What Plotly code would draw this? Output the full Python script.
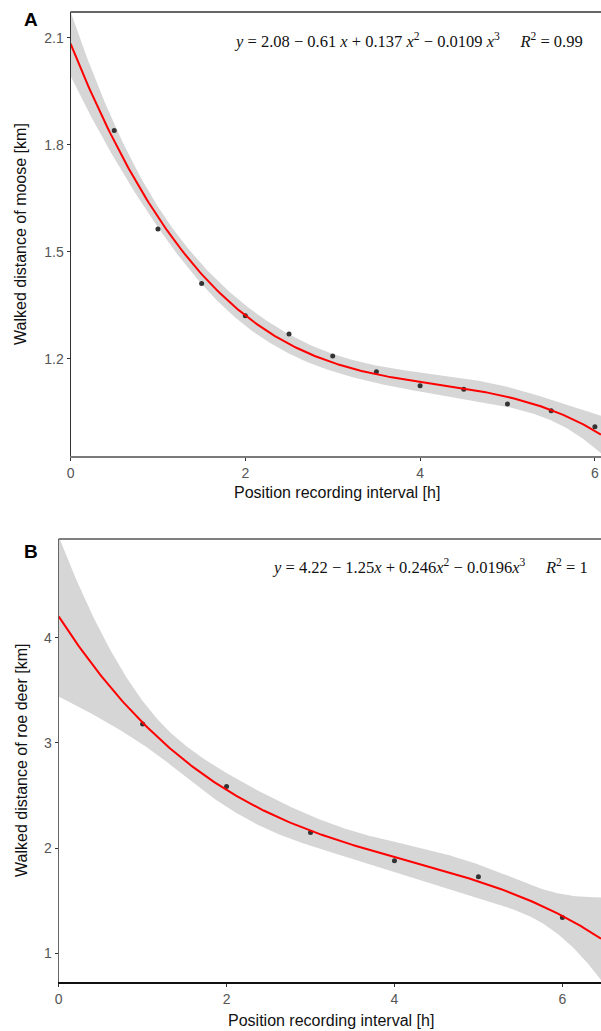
import numpy as np
import plotly.graph_objects as go

# ---------------- data ----------------
moose_x = [0.5, 1.0, 1.5, 2.0, 2.5, 3.0, 3.5, 4.0, 4.5, 5.0, 5.5, 6.0]
moose_y = [1.840, 1.564, 1.411, 1.321, 1.270, 1.208, 1.164, 1.125, 1.115, 1.074, 1.055, 1.010]
deer_x = [1, 2, 3, 4, 5, 6]
deer_y = [3.18, 2.586, 2.149, 1.880, 1.727, 1.342]

x_ticks = [0, 2, 4, 6]
moose_yticks = [1.2, 1.5, 1.8, 2.1]
deer_yticks = [1, 2, 3, 4]

eq_moose = ("<i>y</i> = 2.08 − 0.61 <i>x</i> + 0.137 <i>x</i><sup>2</sup> − 0.0109 <i>x</i><sup>3</sup>"
            "&nbsp;&nbsp;&nbsp;&nbsp;&nbsp;<i>R</i><sup>2</sup> = 0.99")
eq_deer = ("<i>y</i> = 4.22 − 1.25<i>x</i> + 0.246<i>x</i><sup>2</sup> − 0.0196<i>x</i><sup>3</sup>"
           "&nbsp;&nbsp;&nbsp;&nbsp;&nbsp;<i>R</i><sup>2</sup> = 1")

# t quantiles (97.5%) for residual degrees of freedom
T975 = {8: 2.306, 2: 4.303}


def cubic_fit(x, y, xmax):
    x = np.asarray(x, float)
    y = np.asarray(y, float)
    X = np.vander(x, 4)
    beta, *_ = np.linalg.lstsq(X, y, rcond=None)
    resid = y - X @ beta
    df = len(x) - 4
    s2 = (resid @ resid) / df
    cov = s2 * np.linalg.inv(X.T @ X)
    grid = np.linspace(0, xmax, 300)
    G = np.vander(grid, 4)
    fit = G @ beta
    se = np.sqrt(np.einsum("ij,jk,ik->i", G, cov, G))
    t = T975[df]
    return grid, fit, fit - t * se, fit + t * se


W, H = 601, 1031


def px(p):
    return p / W


def py(p):
    return 1 - p / H


A_xr = [0, 6.07]
A_yr = [0.928, 2.172]
B_xr = [0, 6.46]
B_yr = [0.728, 4.937]

fig = go.Figure()

band_col = "#d6d6d6"
for (xs, ys, xr, xa, ya) in [(moose_x, moose_y, A_xr, "x", "y"), (deer_x, deer_y, B_xr, "x2", "y2")]:
    g, f, lo, hi = cubic_fit(xs, ys, xr[1])
    fig.add_trace(go.Scatter(x=g, y=lo, mode="lines", line=dict(width=0), hoverinfo="skip",
                             showlegend=False, xaxis=xa, yaxis=ya))
    fig.add_trace(go.Scatter(x=g, y=hi, mode="lines", line=dict(width=0), fill="tonexty",
                             fillcolor=band_col, hoverinfo="skip", showlegend=False, xaxis=xa, yaxis=ya))
    fig.add_trace(go.Scatter(x=xs, y=ys, mode="markers", marker=dict(color="#333333", size=5),
                             showlegend=False, xaxis=xa, yaxis=ya))
    fig.add_trace(go.Scatter(x=g, y=f, mode="lines", line=dict(color="#ff0000", width=2),
                             showlegend=False, xaxis=xa, yaxis=ya))

tickfont = dict(family="Liberation Sans, Arial", size=14, color="#555555")
common_x = dict(showgrid=False, zeroline=False, showline=True, ticks="outside", ticklen=3,
                tickcolor="#333333", tickfont=tickfont, tickvals=x_ticks)
common_y = dict(showgrid=False, zeroline=False, showline=True, linecolor="#333333", linewidth=1,
                ticks="outside", ticklen=3, tickcolor="#333333", tickfont=tickfont)

fig.update_layout(
    width=W, height=H, autosize=False,
    margin=dict(l=0, r=0, t=0, b=0),
    plot_bgcolor="white", paper_bgcolor="white",
    xaxis=dict(common_x, domain=[px(67), 1.0], range=A_xr, anchor="y",
               linecolor="#7a7a7a", linewidth=2),
    yaxis=dict(common_y, domain=[py(456), py(12)], range=A_yr, anchor="x",
               tickvals=moose_yticks),
    xaxis2=dict(common_x, domain=[px(55), 1.0], range=B_xr, anchor="y2",
                linecolor="#111111", linewidth=1.5),
    yaxis2=dict(common_y, domain=[py(982), py(539)], range=B_yr, anchor="x2",
                tickvals=deer_yticks, linecolor="#666666"),
    shapes=[
        dict(type="line", xref="x domain", yref="y domain", x0=0, x1=1, y0=1, y1=1,
             line=dict(color="#333333", width=1.5)),
        dict(type="line", xref="x2 domain", yref="y2 domain", x0=0, x1=1, y0=1, y1=1,
             line=dict(color="#555555", width=1.5)),
    ],
)

title_font = dict(family="Liberation Sans, Arial", size=16, color="#111111")
eq_font = dict(family="Liberation Serif, Times New Roman", size=16.5, color="#111111")
label_font = dict(family="Liberation Sans, Arial", size=19, color="black")
ann = [
    dict(text="<b>A</b>", x=px(27), y=py(19.5), font=label_font, xanchor="center", yanchor="middle"),
    dict(text="<b>B</b>", x=px(27), y=py(551.5), font=label_font, xanchor="center", yanchor="middle"),
    dict(text=eq_moose, x=px(585), y=py(40), font=eq_font, xanchor="right", yanchor="middle"),
    dict(text=eq_deer, x=px(590), y=py(566), font=eq_font, xanchor="right", yanchor="middle"),
    dict(text="Position recording interval [h]", x=px(335), y=py(493), font=title_font,
         xanchor="center", yanchor="middle"),
    dict(text="Position recording interval [h]", x=px(329), y=py(1020), font=title_font,
         xanchor="center", yanchor="middle"),
    dict(text="Walked distance of moose [km]", x=px(17), y=py(234), font=title_font,
         textangle=-90, xanchor="center", yanchor="middle"),
    dict(text="Walked distance of roe deer [km]", x=px(17), y=py(760), font=title_font,
         textangle=-90, xanchor="center", yanchor="middle"),
]
for a in ann:
    a.update(xref="paper", yref="paper", showarrow=False)
fig.update_layout(annotations=ann)

fig.write_html("out.html", config={"displayModeBar": False},
               post_script="document.body.style.margin='0';document.body.style.overflow='hidden';")
